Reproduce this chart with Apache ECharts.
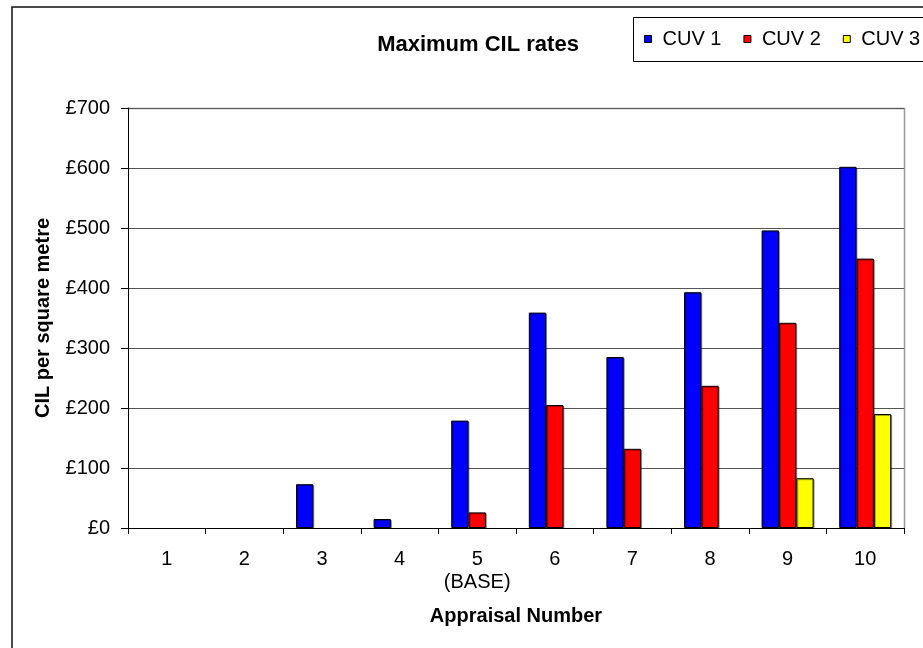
<!DOCTYPE html>
<html>
<head>
<meta charset="utf-8">
<script src="https://cdn.jsdelivr.net/npm/echarts@6/dist/echarts.min.js"></script>
<style>html,body{margin:0;padding:0;background:#fff;}#c{width:923px;height:648px;}</style>
</head>
<body>
<div id="c"></div>
<script>
var categories = ['1','2','3','4','5\n(BASE)','6','7','8','9','10'];
var cuv1 = [null, null, 73, 15, 179, 359, 285, 393, 496, 602];
var cuv2 = [null, null, null, null, 26, 205, 132, 237, 342, 449];
var cuv3 = [null, null, null, null, null, null, null, null, 83, 190];
var seriesNames = ['CUV 1', 'CUV 2', 'CUV 3'];
var yTicks = [0, 100, 200, 300, 400, 500, 600, 700];

var chart = echarts.init(document.getElementById('c'), null, {renderer: 'canvas'});
var font = 'Liberation Sans, Arial, sans-serif';
var FS = 20;
function bar(name, data, color) {
  return {
    name: name, type: 'bar', data: data,
    barGap: '0%', barCategoryGap: '33%',
    itemStyle: {color: color, borderColor: '#000', borderWidth: 1,
      shadowColor: 'rgba(0,0,0,0.35)', shadowOffsetX: 1, shadowOffsetY: 1, shadowBlur: 0},
    emphasis: {disabled: true}
  };
}
chart.setOption({
  animation: false,
  backgroundColor: '#fff',
  textStyle: {fontFamily: font},
  title: {
    text: 'Maximum CIL rates', left: 473, top: 27, textAlign: 'center',
    textStyle: {fontFamily: font, fontWeight: 'bold', fontSize: 22, color: '#000', lineHeight: 26}
  },
  legend: {
    data: seriesNames, left: 633, top: 17, width: 320,
    orient: 'horizontal', icon: 'rect', itemWidth: 7, itemHeight: 7, itemGap: 22,
    padding: [11, 0, 11, 11],
    textStyle: {fontFamily: font, fontSize: FS, color: '#000', lineHeight: 22, padding: [0, 0, 0, 6]},
    itemStyle: {borderColor: '#000', borderWidth: 1}
  },
  graphic: [
    {type: 'rect', shape: {x: 12, y: 7, width: 1000, height: 800}, silent: true, z: -1,
     style: {fill: 'none', stroke: '#111', lineWidth: 1.5}},
    {type: 'rect', shape: {x: 633.5, y: 17.5, width: 400, height: 44}, silent: true,
     style: {fill: 'none', stroke: '#000', lineWidth: 1}},
    {type: 'polyline', shape: {points: [[128, 108.5], [904.5, 108.5], [904.5, 528]]}, silent: true,
     style: {fill: 'none', stroke: '#999', lineWidth: 1.5}}
  ],
  grid: {left: 128, right: 19, top: 108, bottom: 120},
  xAxis: {
    type: 'category', data: categories,
    axisLine: {lineStyle: {color: '#000', width: 1}},
    axisTick: {show: true, alignWithLabel: false, interval: 0, length: 6, lineStyle: {color: '#000'}},
    axisLabel: {interval: 0, fontFamily: font, fontSize: FS, color: '#000', margin: 20, lineHeight: 23},
    name: 'Appraisal Number', nameLocation: 'middle', nameGap: 77,
    nameTextStyle: {fontFamily: font, fontWeight: 'bold', fontSize: FS, color: '#000', lineHeight: 23}
  },
  yAxis: {
    type: 'value', min: 0, max: 700, interval: 100,
    axisLine: {show: true, lineStyle: {color: '#000', width: 1}},
    axisTick: {show: true, length: 7, lineStyle: {color: '#000'}},
    splitLine: {lineStyle: {color: '#555', width: 1}},
    axisLabel: {fontFamily: font, fontSize: FS, color: '#000', margin: 18,
      formatter: function (v) { return yTicks.indexOf(v) >= 0 ? '£' + v : ''; }},
    name: 'CIL per square metre', nameLocation: 'middle', nameGap: 71, nameRotate: 90,
    nameTextStyle: {fontFamily: font, fontWeight: 'bold', fontSize: FS, color: '#000', lineHeight: 23}
  },
  series: [bar(seriesNames[0], cuv1, '#0000FF'), bar(seriesNames[1], cuv2, '#FF0000'), bar(seriesNames[2], cuv3, '#FFFF00')]
});
</script>
</body>
</html>
